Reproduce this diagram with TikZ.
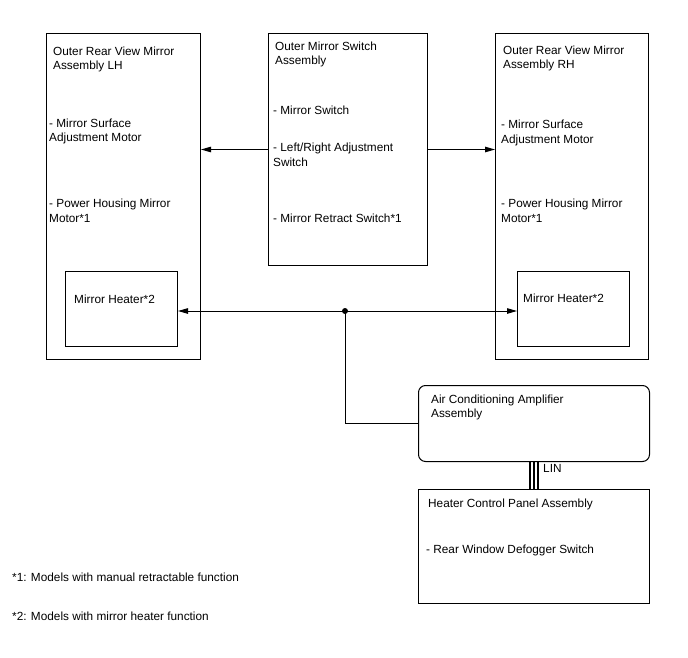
\documentclass[tikz,border=0pt]{standalone}
\usepackage{fontspec}
\setmainfont{Liberation Sans}
\usetikzlibrary{arrows.meta}
\begin{document}
\begin{tikzpicture}[x=1pt,y=-1pt,
  every node/.style={font=\fontsize{11.8}{14}\selectfont},
  box/.style={draw,line width=1pt,anchor=north west,inner sep=0,minimum width=#1},
  lbl/.style={anchor=base west,inner sep=0,align=left},
  arr/.style={line width=1pt,-{Triangle[length=10pt,width=5.5pt]}},
  wire/.style={line width=1pt}]
\useasboundingbox (0,0) rectangle (688,658);
% boxes
\node[box=154,minimum height=326] (lh) at (46,33) {};
\node[box=159,minimum height=232] (cs) at (268,33) {};
\node[box=153,minimum height=326] (rh) at (495,33) {};
\node[box=112,minimum height=75] (lhh) at (65,271) {};
\node[box=112,minimum height=75] (rhh) at (517,271) {};
\node[box=231,minimum height=76,rounded corners=7pt] (ac) at (418,385) {};
\node[box=231,minimum height=114] (hcp) at (418,489) {};
% texts (base anchor = baseline of last line)
\node[lbl] (t1) at (53,70) {Outer Rear View Mirror\\Assembly LH};
\node[lbl] (t2) at (49,142) {- Mirror Surface\\Adjustment Motor};
\node[lbl] (t3) at (49,222) {- Power Housing Mirror\\Motor*1};
\node[lbl] (t4) at (74,303) {Mirror Heater*2};
\node[lbl] (t5) at (275,65) {Outer Mirror Switch\\Assembly};
\node[lbl] (t6) at (273,115) {- Mirror Switch};
\node[lbl] (t7) at (273,166) {- Left/Right Adjustment\\Switch};
\node[lbl] (t8) at (273,222) {- Mirror Retract Switch*1};
\node[lbl] (t9) at (503,69) {Outer Rear View Mirror\\Assembly RH};
\node[lbl] (t10) at (501,143) {- Mirror Surface\\Adjustment Motor};
\node[lbl] (t11) at (501,222) {- Power Housing Mirror\\Motor*1};
\node[lbl] (t12) at (523,302) {Mirror Heater*2};
\node[lbl] (t13) at (431,417) {Air Conditioning Amplifier\\Assembly};
\node[lbl] (t14) at (428,507) {Heater Control Panel Assembly};
\node[lbl] (t15) at (426,553) {- Rear Window Defogger Switch};
\node[lbl] (lin) at (543,472) {LIN};
\node[lbl] (f1) at (12,581) {*1: Models with manual retractable function};
\node[lbl] (f2) at (12,620) {*2: Models with mirror heater function};
% connectors
\draw[arr] (cs.west) -- (lh.east |- cs.west);
\draw[arr] (cs.east) -- (rh.west |- cs.east);
\coordinate (j) at (345,311);
\draw[arr] (j) -- (lhh.east |- j);
\draw[arr] (j) -- (rhh.west |- j);
\draw[wire] (j) |- (ac.west);
\fill (j) circle (3pt);
\foreach \d in {-4,0,4}
  \draw[line width=2.2pt] ([xshift=\d pt]ac.south) -- ([xshift=\d pt]ac.south |- hcp.north);
\end{tikzpicture}
\end{document}
